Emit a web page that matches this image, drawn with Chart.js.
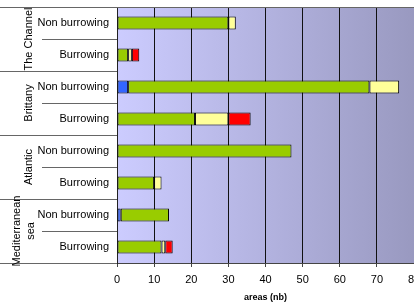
<!DOCTYPE html>
<html>
<head>
<meta charset="utf-8">
<script src="https://cdn.jsdelivr.net/npm/chart.js@4"></script>
<style>
  html, body { margin: 0; padding: 0; background: #fff; }
  #wrap { width: 414px; height: 303px; }
</style>
</head>
<body>
<div id="wrap"><canvas id="areasChart" width="414" height="303"></canvas></div>
<script>
const categories = ['Non burrowing', 'Burrowing', 'Non burrowing', 'Burrowing',
                    'Non burrowing', 'Burrowing', 'Non burrowing', 'Burrowing'];
const groups = [['The Channel'], ['Brittany'], ['Atlantic'], ['Mediterranean', 'sea']];
const blueValues   = [null, null, 3, null, null, null, 1, null];
const greenValues  = [30, 3, 65, 21, 47, 10, 13, 12];
const yellowValues = [2, 1, 8, 9, null, 2, null, 1];
const redValues    = [null, 2, null, 6, null, null, null, 2];
const xTicks = [0, 10, 20, 30, 40, 50, 60, 70, 80];

const FONT = 'Arial, "Liberation Sans", sans-serif';

// plot background: left-to-right gradient like the original
const plotBackground = {
    id: 'plotBackground',
    beforeDraw(chart) {
        const { ctx, chartArea: a } = chart;
        const g = ctx.createLinearGradient(a.left, 0, a.right, 0);
        g.addColorStop(0, '#ccccff');
        g.addColorStop(1, '#9999c0');
        ctx.save();
        ctx.fillStyle = g;
        ctx.fillRect(a.left, a.top, a.right - a.left, a.bottom - a.top);
        ctx.restore();
    }
};

// group labels + separator lines in the category area
const groupAxis = {
    id: 'groupAxis',
    afterDraw(chart) {
        const { ctx, chartArea: a } = chart;
        const y = chart.scales.y;
        const half = (y.getPixelForValue(1) - y.getPixelForValue(0)) / 2;
        ctx.save();
        ctx.strokeStyle = '#666';
        ctx.lineWidth = 1;
        // top border of the plot
        ctx.beginPath();
        ctx.moveTo(0, a.top + 0.5);
        ctx.lineTo(a.right, a.top + 0.5);
        ctx.stroke();
        categories.forEach((c, i) => {
            const yb = Math.round(y.getPixelForValue(i) + half) + 0.5;
            const x0 = (i % 2 === 1) ? 0 : 42;
            ctx.beginPath();
            ctx.moveTo(x0, yb);
            ctx.lineTo(a.left, yb);
            ctx.stroke();
        });
        ctx.fillStyle = '#000';
        ctx.font = '11px ' + FONT;
        ctx.textAlign = 'center';
        ctx.textBaseline = 'middle';
        groups.forEach((lines, gi) => {
            const yc = (y.getPixelForValue(gi * 2) + y.getPixelForValue(gi * 2 + 1)) / 2;
            const xs = lines.length === 1 ? [29] : [17, 31];
            lines.forEach((t, li) => {
                ctx.save();
                ctx.translate(xs[li], yc);
                ctx.rotate(-Math.PI / 2);
                ctx.fillText(t, 0, 0);
                ctx.restore();
            });
        });
        ctx.restore();
    }
};

const ds = (label, data, color) => ({
    label, data,
    backgroundColor: color,
    borderColor: '#000',
    borderWidth: 1,
    borderSkipped: false,
    categoryPercentage: 1,
    barPercentage: 0.4
});

new Chart(document.getElementById('areasChart'), {
    type: 'bar',
    data: {
        labels: categories,
        datasets: [
            ds('blue', blueValues, '#3366ff'),
            ds('green', greenValues, '#99cc00'),
            ds('yellow', yellowValues, '#ffff99'),
            ds('red', redValues, '#ff0000')
        ]
    },
    options: {
        indexAxis: 'y',
        responsive: false,
        animation: false,
        layout: { padding: { top: 7, right: 0, left: 0, bottom: 0 } },
        plugins: { legend: { display: false }, tooltip: { enabled: false } },
        scales: {
            x: {
                stacked: true,
                min: 0,
                max: 80,
                afterBuildTicks: (s) => { s.ticks = xTicks.map(v => ({ value: v })); },
                afterFit: (s) => { s.height = 40; s.paddingRight = 0; },
                ticks: { color: '#000', font: { family: FONT, size: 11 }, padding: 6, maxRotation: 0 },
                grid: { color: (c) => c.tick && c.tick.value > 0 ? '#111' : 'transparent', lineWidth: 1, tickLength: 4, tickColor: '#444' },
                border: { color: '#444', width: 1 },
                title: { display: true, text: 'areas (nb)', color: '#000', font: { family: FONT, size: 9, weight: 'bold' }, padding: { top: 0, bottom: 0 } }
            },
            y: {
                stacked: true,
                afterFit: (s) => { s.width = 117; s.paddingTop = 0; s.paddingBottom = 0; },
                ticks: { color: '#000', font: { family: FONT, size: 11 }, padding: 4 },
                grid: { drawOnChartArea: false, tickLength: 4, tickColor: '#444', offset: true },
                border: { color: '#222', width: 1 }
            }
        }
    },
    plugins: [plotBackground, groupAxis]
});
</script>
</body>
</html>
